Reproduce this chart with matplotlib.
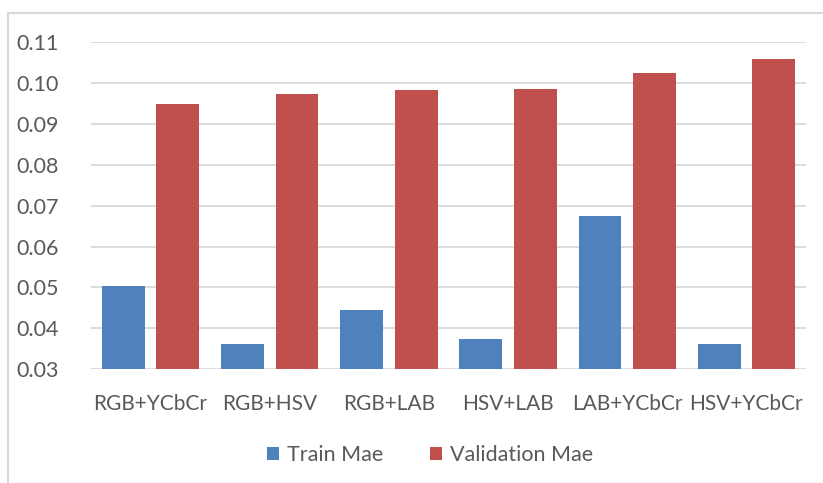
import matplotlib.pyplot as plt
import numpy as np
from matplotlib.lines import Line2D

# datos
categorias = ['RGB+YCbCr', 'RGB+HSV', 'RGB+LAB', 'HSV+LAB', 'LAB+YCbCr', 'HSV+YCbCr']
train_mae = [0.0504, 0.0362, 0.0445, 0.0374, 0.0674, 0.0361]
val_mae = [0.0948, 0.0972, 0.0982, 0.0986, 0.1024, 0.1059]
yticks = [0.03, 0.04, 0.05, 0.06, 0.07, 0.08, 0.09, 0.10, 0.11]

plt.rcParams['font.family'] = ['Lato', 'DejaVu Sans']

fig = plt.figure(figsize=(8.23, 4.83), dpi=100)
ax = fig.add_axes([91 / 823, 1 - 369.3 / 483, 715 / 823, 327.3 / 483])

x = np.arange(len(categorias))
ancho = 0.36
ax.bar(x - 0.229, train_mae, ancho, bottom=0, color='#4F81BD', label='Train Mae', zorder=3)
ax.bar(x + 0.229, val_mae, ancho, bottom=0, color='#C0504D', label='Validation Mae', zorder=3)

ax.set_xlim(-0.5, len(categorias) - 0.5)
ax.set_ylim(0.03, 0.11)
ax.set_yticks(yticks)
ax.set_yticklabels(['%.2f' % v for v in yticks], fontsize=15.5, color='#595959')
ax.set_xticks(x)
ax.set_xticklabels(categorias, fontsize=15, color='#595959')
ax.tick_params(axis='both', length=0)
ax.tick_params(axis='y', pad=23)
ax.tick_params(axis='x', pad=18)
ax.yaxis.grid(True, color='#D9D9D9', lw=1.3, zorder=0)
for s in ax.spines.values():
    s.set_visible(False)

ax.legend(loc='center', bbox_to_anchor=(430 / 823, 1 - 455 / 483), bbox_transform=fig.transFigure,
          ncol=2, frameon=False, fontsize=15.5, handlelength=0.55, handleheight=0.55,
          handletextpad=0.35, columnspacing=2.2, labelcolor='#595959')

# borde del grafico estilo Excel
fig.add_artist(Line2D([8 / 823, 1], [1 - 13 / 483] * 2, color='#D9D9D9', lw=1.5))
fig.add_artist(Line2D([8 / 823] * 2, [0, 1 - 13 / 483], color='#D9D9D9', lw=1.5))

fig.savefig('out.png', dpi=100)
